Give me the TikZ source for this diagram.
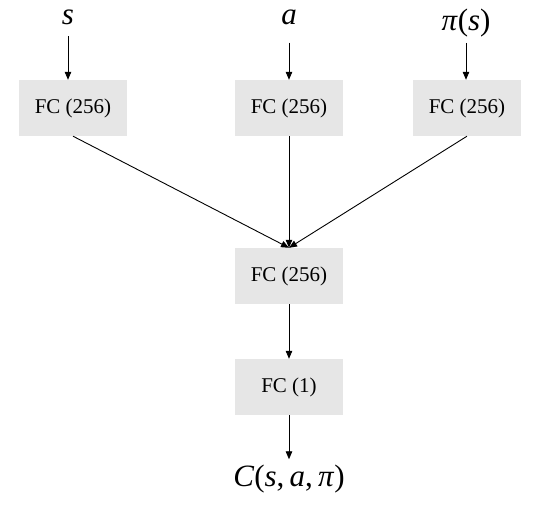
\documentclass[tikz,border=0pt]{standalone}
\usepackage{fontspec}
\setmainfont{Liberation Serif}
\usepackage{tikz}
\usetikzlibrary{arrows.meta,positioning}
\definecolor{kutuGri}{HTML}{E6E6E6}

\begin{document}
\begin{tikzpicture}[x=1pt,y=-1pt,
  every node/.style={font=\fontsize{21}{25}\selectfont},
  fcbox/.style={fill=kutuGri,minimum width=108pt,minimum height=56pt,inner sep=0pt},
  degisken/.style={font=\fontsize{31}{36}\selectfont,inner sep=0pt,anchor=base},
  ok/.style={-{Triangle[length=8pt,width=6.5pt]},line width=0.9pt}]
\useasboundingbox (0,0) rectangle (539,505);
\node[fcbox] (fcs) at (73,108) {FC (256)};
\node[fcbox] (fca) at (289,108) {FC (256)};
\node[fcbox] (fcp) at (467,108) {FC (256)};
\node[fcbox] (fcm) at (289,276) {FC (256)};
\node[fcbox] (fco) at (289,387) {FC (1)};
\node[degisken] (s) at (68,25) {\textit{s}};
\node[degisken] (a) at (289,25) {\textit{a}};
\node[degisken] (ps) at (466,31) {\textit{π}(\textit{s})};
\node[degisken] (c) at (289,486) {\textit{C}(\textit{s},\,\textit{a},\,\textit{π})};
\draw[ok] ([yshift=-11pt]s.south) -- (s |- fcs.north);
\draw[ok] ([yshift=-17pt]a.south) -- (a |- fca.north);
\draw[ok] ([yshift=-5pt]ps.south) -- (ps |- fcp.north);
\foreach \kaynak in {fcs, fca, fcp} \draw[ok] (\kaynak.south) -- (fcm.north);
\draw[ok] (fcm) -- (fco);
\draw[ok] (fco.south) -- ([yshift=5pt]c.north);
\end{tikzpicture}
\end{document}
